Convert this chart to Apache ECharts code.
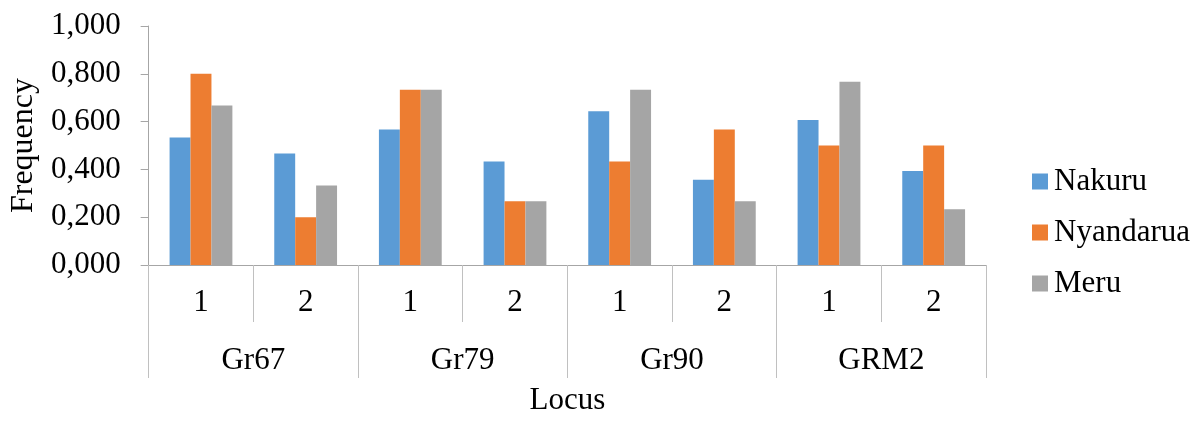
<!DOCTYPE html>
<html>
<head>
<meta charset="utf-8">
<script src="https://cdn.jsdelivr.net/npm/echarts@6/dist/echarts.min.js"></script>
<style>
  html, body { margin: 0; padding: 0; background: #fff; }
  #chart { width: 1192px; height: 421px; }
</style>
</head>
<body>
<div id="chart"></div>
<script>
// Allele categories (inner level) and loci (outer level)
const alleles = ['1', '2', '1', '2', '1', '2', '1', '2'];
const loci = ['Gr67', 'Gr79', 'Gr90', 'GRM2'];
const yTicks = [0, 0.2, 0.4, 0.6, 0.8, 1.0];

// Allele frequencies per population
const nakuru    = [0.533, 0.467, 0.567, 0.433, 0.643, 0.357, 0.607, 0.393];
const nyandarua = [0.800, 0.200, 0.733, 0.267, 0.433, 0.567, 0.500, 0.500];
const meru      = [0.667, 0.333, 0.733, 0.267, 0.733, 0.267, 0.767, 0.233];

const FONT = '"Liberation Serif", "Times New Roman", serif';
const FS = 31;
const axisGrey = '#a6a6a6';
const sepGrey = '#c0c0c0';

const chart = echarts.init(document.getElementById('chart'), null, { renderer: 'canvas' });

const makeSeries = (name, data, color) => ({
  name, type: 'bar', data, xAxisIndex: 0, yAxisIndex: 0,
  barGap: '0%', barCategoryGap: '40%',
  itemStyle: { color },
  emphasis: { disabled: true }
});

chart.setOption({
  animation: false,
  textStyle: { fontFamily: FONT },
  grid: { left: 146, width: 840, top: 26, height: 246, containLabel: false },
  legend: {
    orient: 'vertical',
    left: 1027, top: 161,
    itemWidth: 16, itemHeight: 16, itemGap: 20,
    icon: 'rect',
    textStyle: { fontFamily: FONT, fontSize: FS, color: '#000', padding: [0, 0, 0, 1] },
    data: ['Nakuru', 'Nyandarua', 'Meru']
  },
  xAxis: [
    {
      type: 'category',
      data: alleles,
      position: 'bottom',
      axisLine: { show: true, lineStyle: { color: axisGrey, width: 1 } },
      axisTick: { show: true, interval: 0, length: 57, lineStyle: { color: sepGrey } },
      axisLabel: { interval: 0, margin: 22, fontFamily: FONT, fontSize: FS, color: '#000' },
      splitLine: { show: false }
    },
    {
      type: 'category',
      data: loci,
      position: 'bottom',
      axisLine: { show: false },
      axisTick: { show: true, interval: 0, length: 113, lineStyle: { color: sepGrey } },
      axisLabel: { interval: 0, margin: 80, fontFamily: FONT, fontSize: FS, color: '#000' },
      splitLine: { show: false },
      name: 'Locus',
      nameLocation: 'middle',
      nameGap: 120,
      nameTextStyle: { fontFamily: FONT, fontSize: FS, color: '#000' }
    }
  ],
  yAxis: {
    type: 'value',
    min: yTicks[0],
    max: yTicks[yTicks.length - 1],
    interval: 0.2,
    name: 'Frequency',
    nameLocation: 'middle',
    nameGap: 106,
    nameRotate: 90,
    nameTextStyle: { fontFamily: FONT, fontSize: 32, color: '#000' },
    axisLine: { show: true, lineStyle: { color: axisGrey, width: 1 } },
    axisTick: { show: true, length: 8, lineStyle: { color: axisGrey } },
    axisLabel: {
      margin: 28, fontFamily: FONT, fontSize: FS, color: '#000',
      formatter: v => v.toFixed(3).replace('.', ',')
    },
    splitLine: { show: false }
  },
  series: [
    makeSeries('Nakuru', nakuru, '#5b9bd5'),
    makeSeries('Nyandarua', nyandarua, '#ed7d31'),
    makeSeries('Meru', meru, '#a5a5a5')
  ]
});
</script>
</body>
</html>
